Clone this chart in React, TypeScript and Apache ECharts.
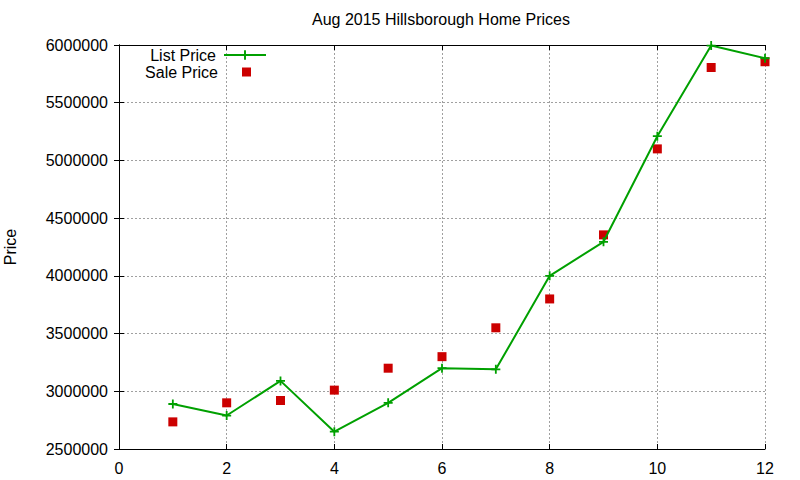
import { useEffect, useRef } from 'react'
import * as echarts from 'echarts'

const months = [1, 2, 3, 4, 5, 6, 7, 8, 9, 10, 11, 12]
const listPrice = [
  2890000, 2790000, 3090000, 2650000, 2900000, 3200000, 3190000, 4000000, 4295000, 5210000,
  5995000, 5885000,
]
const salePrice = [
  2735000, 2900000, 2920000, 3010000, 3200000, 3300000, 3550000, 3800000, 4355000, 5100000,
  5805000, 5855000,
]
const xTicks = { min: 0, max: 12, interval: 2 }
const yTicks = { min: 2500000, max: 6000000, interval: 500000 }

const FONT = '"Liberation Sans", Arial, sans-serif'
const GREEN = '#00a000'
const RED = '#cc0000'
const PLUS = 'path://M4,0h2v4h4v2h-4v4h-2v-4h-4v-2h4z'

const axisLine = { show: true, lineStyle: { color: '#000', width: 1 } }
const axisTick = { show: true, inside: true, length: 5, lineStyle: { color: '#000' } }
const splitLine = { show: true, lineStyle: { color: '#a0a0a0', type: [2, 2] as number[], width: 1 } }
const label = { color: '#000', fontSize: 16, fontFamily: FONT, formatter: (v: number) => String(v) }

export default function App() {
  const chartRef = useRef<HTMLDivElement | null>(null)

  useEffect(() => {
    if (!chartRef.current) {
      return
    }

    const chart = echarts.init(chartRef.current, null, { renderer: 'svg' })
    chart.setOption({
      animation: false,
      backgroundColor: '#fff',
      title: {
        text: 'Aug 2015 Hillsborough Home Prices',
        left: 312,
        top: 11,
        padding: 0,
        textStyle: { color: '#000', fontSize: 16, fontWeight: 'normal', fontFamily: FONT },
      },
      legend: [
        {
          data: ['List Price'],
          orient: 'vertical',
          align: 'right',
          right: 533,
          top: 47,
          padding: 0,
          itemWidth: 42,
          itemHeight: 12,
          textStyle: { color: '#000', fontSize: 16, fontFamily: FONT, padding: [0, 3, 0, 0] },
        },
        {
          data: ['Sale Price'],
          orient: 'vertical',
          align: 'right',
          right: 549,
          top: 64,
          padding: 0,
          itemWidth: 9,
          itemHeight: 9,
          itemStyle: { opacity: 1 },
          textStyle: { color: '#000', fontSize: 16, fontFamily: FONT, padding: [0, 19, 0, 0] },
        },
      ],
      grid: { left: 119, right: 35, top: 45, bottom: 31, containLabel: false, outerBoundsMode: 'none' },
      xAxis: [
        {
          type: 'value',
          ...xTicks,
          position: 'bottom',
          axisLine,
          axisTick,
          splitLine,
          axisLabel: { ...label, margin: 11 },
        },
        {
          type: 'value',
          ...xTicks,
          position: 'top',
          axisLine,
          axisTick,
          splitLine: { show: false },
          axisLabel: { show: false },
        },
      ],
      yAxis: [
        {
          type: 'value',
          ...yTicks,
          position: 'left',
          name: 'Price',
          nameLocation: 'middle',
          nameRotate: 90,
          nameGap: 101,
          nameTextStyle: { color: '#000', fontSize: 16, fontFamily: FONT },
          axisLine,
          axisTick,
          splitLine,
          axisLabel: { ...label, margin: 11 },
        },
        {
          type: 'value',
          ...yTicks,
          position: 'right',
          axisLine,
          axisTick,
          splitLine: { show: false },
          axisLabel: { show: false },
        },
      ],
      series: [
        {
          name: 'List Price',
          type: 'line',
          xAxisIndex: 0,
          yAxisIndex: 0,
          symbol: PLUS,
          symbolSize: 9,
          showAllSymbol: true,
          lineStyle: { color: GREEN, width: 2 },
          itemStyle: { color: GREEN, borderWidth: 0 },
          data: months.map((m, i) => [m, listPrice[i]]),
          z: 3,
        },
        {
          name: 'Sale Price',
          type: 'scatter',
          xAxisIndex: 0,
          yAxisIndex: 0,
          symbol: 'rect',
          symbolSize: 9,
          itemStyle: { color: RED, opacity: 1 },
          data: months.map((m, i) => [m, salePrice[i]]),
          z: 2,
        },
      ],
    })

    return () => {
      chart.dispose()
    }
  }, [])

  return <div ref={chartRef} style={{ width: 800, height: 480, position: 'absolute', left: 0, top: 0 }} />
}
